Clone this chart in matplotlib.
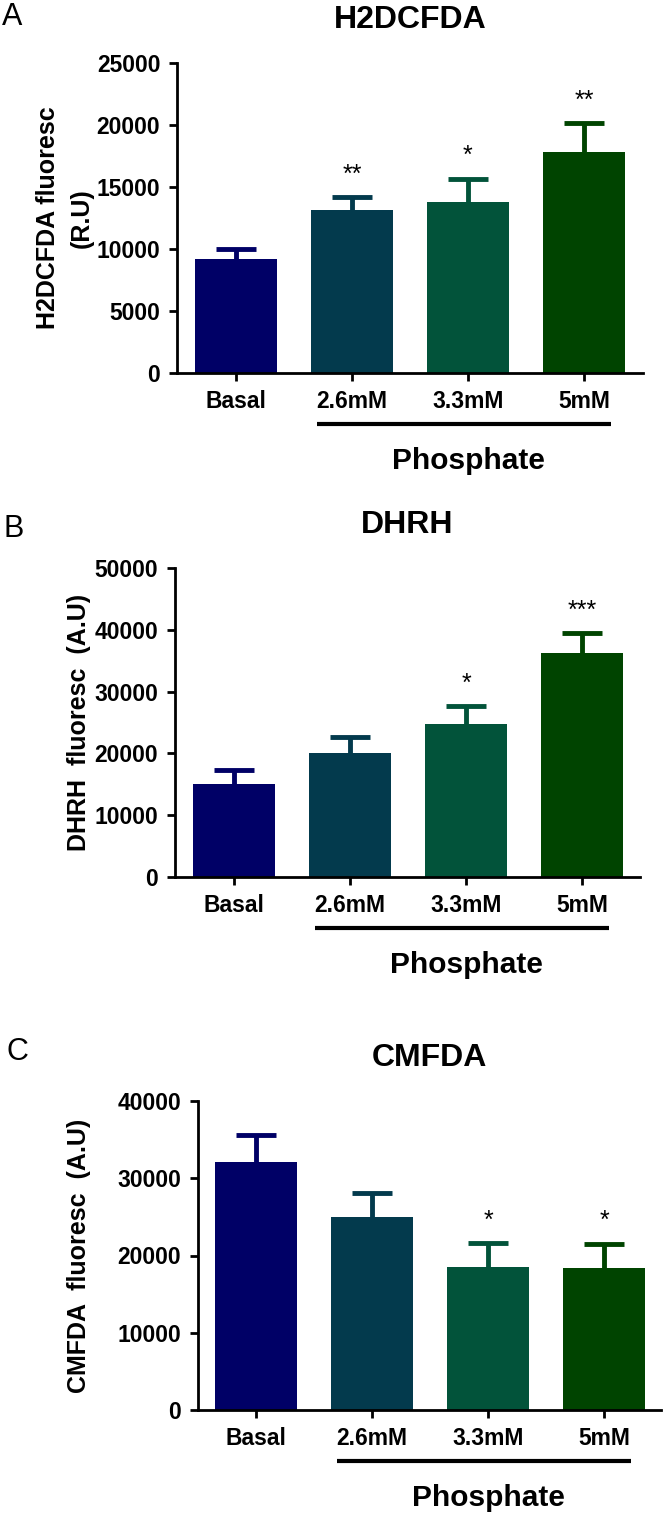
import numpy as np
import matplotlib.pyplot as plt
import matplotlib.transforms as mtransforms

plt.rcParams['font.family'] = ['Liberation Sans', 'DejaVu Sans']

groups = ['Basal', '2.6mM', '3.3mM', '5mM']
colors = ['#000066', '#033a4d', '#02533a', '#004400']

h2dcfda_mean = [9200, 13150, 13750, 17850]
h2dcfda_sem = [800, 1070, 1930, 2300]
h2dcfda_stars = ['', '**', '*', '**']

dhrh_mean = [15050, 20100, 24700, 36200]
dhrh_sem = [2270, 2600, 3000, 3230]
dhrh_stars = ['', '', '*', '***']

cmfda_mean = [32100, 25000, 18550, 18350]
cmfda_sem = [3450, 3100, 3030, 3200]
cmfda_stars = ['', '', '*', '*']

W, H = 666, 1514
fig = plt.figure(figsize=(W / 100, H / 100), dpi=100)


def panel(rect, xlim, means, sems, stars, ymax, ystep, title, ylabels, letter, letter_pos):
    # rect in pixels: left, top, right, bottom
    l, t, r, b = rect
    ax = fig.add_axes([l / W, 1 - b / H, (r - l) / W, (b - t) / H])
    x = np.arange(len(groups))
    ax.bar(x, means, width=0.71, color=colors, zorder=2)
    # upper error bars only, drawn behind the bars
    for i in range(len(groups)):
        top = means[i] + sems[i]
        ax.vlines(x[i], means[i], top, color=colors[i], lw=3.5, zorder=1)
        ax.hlines(top, x[i] - 0.17, x[i] + 0.17, color=colors[i], lw=3.5, zorder=1)
        if stars[i]:
            ax.annotate(stars[i], xy=(i, top), xytext=(0, 11),
                        textcoords='offset points', ha='center', va='baseline',
                        fontsize=18)
    ax.set_xlim(*xlim)
    ax.set_ylim(0, ymax)
    ax.set_yticks(np.arange(0, ymax + 1, ystep))
    ax.set_xticks(x)
    ax.set_xticklabels(groups)
    for sp in ['top', 'right']:
        ax.spines[sp].set_visible(False)
    for sp in ['left', 'bottom']:
        ax.spines[sp].set_linewidth(2)
    ax.tick_params(width=2, length=6, labelsize=16.5, pad=6)
    for lab in ax.get_xticklabels() + ax.get_yticklabels():
        lab.set_fontweight('bold')
    ax.set_title(title, fontsize=23, fontweight='bold', pad=25)
    for lab_text, lab_px in ylabels:
        ax.text((lab_px - l) / (r - l), 0.5, lab_text, transform=ax.transAxes,
                rotation=90, ha='center', va='center', fontsize=18, fontweight='bold')
    trans = mtransforms.blended_transform_factory(ax.transData, ax.transAxes)
    ax.plot([0.70, 3.23], [-0.165, -0.165], color='black', lw=3,
            transform=trans, clip_on=False, solid_capstyle='butt')
    ax.text(2, -0.31, 'Phosphate', transform=trans, ha='center', va='baseline',
            fontsize=21.5, fontweight='bold')
    fig.text(letter_pos[0] / W, 1 - letter_pos[1] / H, letter, fontsize=22,
             ha='left', va='baseline')
    return ax


panel((177, 63, 643, 373), (-0.51, 3.51), h2dcfda_mean, h2dcfda_sem, h2dcfda_stars,
      25000, 5000, 'H2DCFDA', [('H2DCFDA fluoresc', 48), ('(R.U)', 82)], 'A', (2, 25))
panel((175, 568, 640, 877), (-0.51, 3.5), dhrh_mean, dhrh_sem, dhrh_stars,
      50000, 10000, 'DHRH', [('DHRH  fluoresc  (A.U)', 79)], 'B', (4, 537))
panel((198, 1101, 661, 1410), (-0.5, 3.49), cmfda_mean, cmfda_sem, cmfda_stars,
      40000, 10000, 'CMFDA', [('CMFDA  fluoresc  (A.U)', 79)], 'C', (6, 1060))

fig.savefig('out.png', dpi=100)
